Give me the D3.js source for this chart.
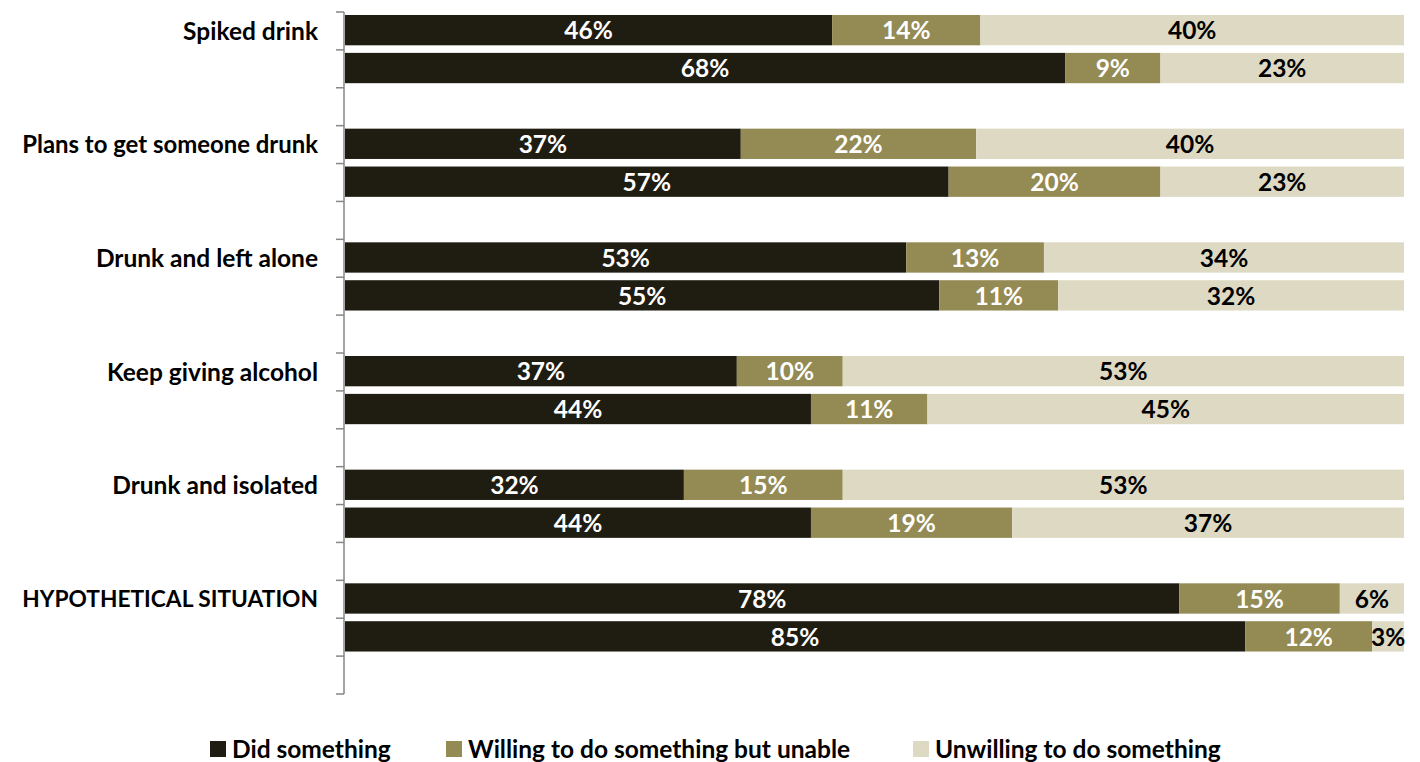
<!DOCTYPE html>
<html><head><meta charset="utf-8">
<script src="https://cdn.jsdelivr.net/npm/d3@7"></script>
<style>body{margin:0;background:#fff}svg{display:block}text{font-family:Lato,"Open Sans",sans-serif;font-weight:bold}</style>
</head><body>
<svg id="c" width="1420" height="762"></svg>
<script>
const categories = ["Spiked drink","Plans to get someone drunk","Drunk and left alone","Keep giving alcohol","Drunk and isolated","HYPOTHETICAL SITUATION"];
const seriesNames = ["Did something","Willing to do something but unable","Unwilling to do something"];
// first bar of each category
const didA = [46,37,53,37,32,78];
const willingA = [14,22,13,10,15,15];
const unwillingA = [40,40,34,53,53,6];
// second bar of each category
const didB = [68,57,55,44,44,85];
const willingB = [9,20,11,11,19,12];
const unwillingB = [23,23,32,45,37,3];
const colors = ["#1F1C12","#948A54","#DDD9C3"];
const labelColors = ["#fff","#fff","#000"];

const rows = [];
categories.forEach((c,i)=>{
  rows.push({key:c+"|a", cat:c, vals:[didA[i],willingA[i],unwillingA[i]]});
  rows.push({key:c+"|b", cat:"", vals:[didB[i],willingB[i],unwillingB[i]]});
  rows.push({key:c+"|gap", cat:"", vals:null});
});

const FS = 24.5;
const svg = d3.select("#c");
const x = d3.scaleLinear().domain([0,1]).range([345,1404]);
const y = d3.scaleBand().domain(rows.map(r=>r.key)).range([12,694]);
const bh = y.bandwidth()*0.8;

const g = svg.append("g");
rows.filter(r=>r.vals).forEach(r=>{
  const tot = d3.sum(r.vals);
  let acc = 0;
  r.vals.forEach((v,j)=>{
    const x0 = x(acc/tot), x1 = x((acc+v)/tot);
    acc += v;
    const yy = y(r.key) + (y.bandwidth()-bh)/2 - 0.8;
    g.append("rect").attr("x",x0).attr("y",yy).attr("width",x1-x0).attr("height",bh).attr("fill",colors[j]);
    g.append("text").attr("x",(x0+x1)/2).attr("y",yy+bh/2+0.5).attr("dy","0.36em")
      .attr("text-anchor","middle").attr("fill",labelColors[j]).attr("font-size",FS).text(v+"%");
  });
});

// axis
const ax = svg.append("g").attr("transform","translate(344,0)");
ax.append("line").attr("x1",0).attr("x2",0).attr("y1",12).attr("y2",694).attr("stroke","#868686").attr("stroke-width",1.5);
const ticks = rows.map(r=>y(r.key)).concat([694]);
ax.selectAll(".t").data(ticks).join("line").attr("x1",-8).attr("x2",0).attr("y1",d=>d).attr("y2",d=>d).attr("stroke","#868686").attr("stroke-width",1.5);

// category labels
rows.filter(r=>r.cat).forEach(r=>{
  const t = svg.append("text").attr("x",318).attr("y",y(r.key)+y.bandwidth()/2).attr("dy","0.36em")
    .attr("text-anchor","end").attr("font-size",FS).attr("fill","#000").text(r.cat);
  const w = t.node().getComputedTextLength();
  if (w > 296) t.attr("font-size", FS*296/w);
});

// legend
const lx = [210,446,913];
seriesNames.forEach((n,i)=>{
  svg.append("rect").attr("x",lx[i]).attr("y",741).attr("width",16).attr("height",16).attr("fill",colors[i]);
  svg.append("text").attr("x",lx[i]+22).attr("y",749).attr("dy","0.36em").attr("font-size",FS).attr("fill","#000").text(n);
});
</script>
</body></html>
